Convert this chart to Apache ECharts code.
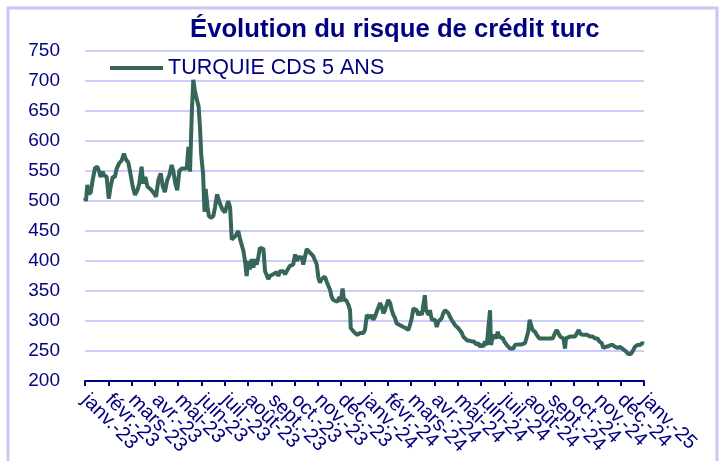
<!DOCTYPE html>
<html>
<head>
<meta charset="utf-8">
<script src="https://cdn.jsdelivr.net/npm/echarts@6.0.0/dist/echarts.min.js"></script>
<style>
  html, body { margin: 0; padding: 0; background: #fff; }
  #chart { width: 724px; height: 461px; }
</style>
</head>
<body>
<div id="chart"></div>
<script>
// mois affichés sous l'axe (un tick par début de mois)
const monthLabels = ['janv.-23', 'févr.-23', 'mars-23', 'avr.-23', 'mai-23', 'juin-23', 'juil.-23', 'août-23',
  'sept.-23', 'oct.-23', 'nov.-23', 'déc.-23', 'janv.-24', 'févr.-24', 'mars-24', 'avr.-24', 'mai-24',
  'juin-24', 'juil.-24', 'août-24', 'sept.-24', 'oct.-24', 'nov.-24', 'déc.-24', 'janv.-25']

const yTicks = [200, 250, 300, 350, 400, 450, 500, 550, 600, 650, 700, 750]

// CDS 5 ans, [position en mois depuis janv.-23, points de base]
const cds2023a = [[0.00,505],[0.04,500],[0.10,527],[0.14,513],[0.24,513],[0.33,535],[0.43,555],[0.53,557],[0.61,549],[0.67,540],[0.76,549],[0.82,543],[0.93,540],[1.02,504],[1.10,524],[1.19,540],[1.28,540],[1.36,554],[1.47,563],[1.58,568],[1.67,579],[1.76,569],[1.86,564],[1.93,550],[2.05,524],[2.15,510],[2.25,518],[2.33,529],[2.43,557],[2.50,529],[2.59,540],[2.68,524],[2.76,527],[2.86,518],[2.96,513],[3.05,507],[3.15,535],[3.25,546],[3.34,524],[3.43,515],[3.53,535],[3.62,543],[3.72,560],[3.79,550],[3.88,529],[3.96,518],[4.05,550],[4.15,554],[4.25,554],[4.37,554],[4.44,590],[4.51,549],[4.55,550],[4.59,652],[4.65,702],[4.71,685],[4.77,674],[4.82,677],[4.88,657],[4.94,621],[4.99,577],[5.07,545],[5.13,482],[5.18,520],[5.26,490],[5.32,475],[5.41,472],[5.51,475],[5.58,489],[5.67,511],[5.75,508],[5.81,494],[5.90,486]]

const cds2023b = [[6.01,481],[6.10,494],[6.15,500],[6.23,489],[6.30,436],[6.37,433],[6.47,442],[6.58,450],[6.66,436],[6.73,433],[6.80,417],[6.87,400],[6.94,375],[7.01,400],[7.08,386],[7.16,403],[7.23,389],[7.30,403],[7.37,394],[7.44,406],[7.51,422],[7.59,425],[7.66,420],[7.73,383],[7.80,381],[7.87,370],[7.94,375],[8.02,372],[8.08,378],[8.16,375],[8.23,381],[8.30,375],[8.37,383],[8.45,386],[8.51,383],[8.59,378],[8.66,383],[8.73,386],[8.80,392],[8.87,389],[8.94,394],[9.02,411],[9.09,400],[9.16,408],[9.23,403],[9.30,408],[9.37,394],[9.45,408],[9.52,420],[9.59,422],[9.66,414],[9.73,411],[9.80,408],[9.88,406],[9.95,394],[10.02,372],[10.09,364],[10.16,370],[10.23,372],[10.30,374],[10.38,365],[10.45,363],[10.52,352],[10.59,340],[10.66,335],[10.73,335],[10.83,332],[10.92,340],[10.98,332],[11.06,354],[11.12,335],[11.21,335],[11.31,327],[11.38,318],[11.41,288],[11.49,288],[11.59,280],[11.69,277],[11.81,280],[11.95,280]]

const cds2024a = [[12.02,285],[12.10,310],[12.16,310],[12.24,305],[12.31,310],[12.38,302],[12.45,307],[12.52,315],[12.59,315],[12.67,330],[12.74,324],[12.81,313],[12.88,318],[12.95,327],[13.02,335],[13.10,330],[13.17,318],[13.24,310],[13.31,305],[13.38,296],[13.53,293],[13.67,290],[13.78,288],[13.88,285],[13.95,293],[14.03,305],[14.10,321],[14.17,321],[14.24,318],[14.31,310],[14.38,315],[14.46,310],[14.53,313],[14.59,343],[14.64,318],[14.70,321],[14.76,310],[14.81,318],[14.89,302],[14.95,305],[15.03,302],[15.10,290],[15.17,299],[15.24,296],[15.32,305],[15.38,313],[15.46,318],[15.53,315],[15.60,313],[15.67,307],[15.74,302],[15.81,299],[15.89,293],[15.96,290],[16.03,288],[16.10,285],[16.18,280],[16.24,274],[16.32,271],[16.39,268],[16.50,267],[16.60,266],[16.70,266],[16.79,261],[16.89,263],[16.96,257],[17.03,261],[17.10,257],[17.17,266],[17.25,260],[17.32,260],[17.39,318],[17.43,260],[17.49,271],[17.56,277],[17.65,271],[17.72,282],[17.79,274],[17.86,277],[17.94,271]]

const cds2024b = [[18.00,266],[18.11,260],[18.18,257],[18.25,254],[18.32,257],[18.39,254],[18.46,260],[18.53,257],[18.60,261],[18.68,260],[18.75,261],[18.82,260],[18.89,263],[18.96,266],[19.03,282],[19.09,302],[19.15,293],[19.22,285],[19.32,282],[19.39,277],[19.51,271],[19.65,271],[19.79,271],[19.97,271],[20.08,271],[20.18,280],[20.25,285],[20.32,280],[20.40,274],[20.47,272],[20.54,271],[20.61,254],[20.65,271],[20.73,274],[20.82,274],[20.94,274],[21.04,274],[21.11,277],[21.20,285],[21.28,278],[21.37,277],[21.47,277],[21.57,277],[21.68,274],[21.80,274],[21.90,271],[22.00,271],[22.08,266],[22.19,263],[22.25,255],[22.37,257],[22.47,258],[22.57,260],[22.66,260],[22.76,257],[22.86,255],[22.97,257],[23.04,254],[23.14,252],[23.23,249],[23.33,245],[23.43,245],[23.52,250],[23.61,257],[23.71,260],[23.82,260],[23.93,263],[24.00,262]]

const navy = '#000080'
const lineColor = '#36655a'

const myChart = echarts.init(document.getElementById('chart'))
myChart.setOption({
    animation: false,
    backgroundColor: '#fff',
    textStyle: { fontFamily: 'Liberation Sans, Arial, sans-serif' },
    graphic: [{
        type: 'rect',
        shape: { x: 8, y: 8, width: 709, height: 470 },
        style: { fill: 'none', stroke: '#c8c8f4', lineWidth: 3 },
        silent: true
    }],
    title: {
        text: 'Évolution du risque de crédit turc',
        left: 190,
        top: 17,
        padding: 0,
        textStyle: { color: navy, fontSize: 25.7, fontWeight: 'bold', fontFamily: 'Liberation Sans' }
    },
    legend: {
        left: 110,
        top: 57,
        padding: 0,
        icon: 'rect',
        itemWidth: 53,
        itemHeight: 4,
        textStyle: { color: navy, fontSize: 21.5, fontFamily: 'Liberation Sans' },
        data: ['TURQUIE CDS 5 ANS']
    },
    grid: { left: 85, right: 80, top: 51, bottom: 80, containLabel: false },
    xAxis: [{
        // axe des données (position en mois), invisible
        type: 'value',
        min: 0,
        max: monthLabels.length - 1,
        interval: 1,
        show: false
    }, {
        // axe des libellés de mois, tous affichés
        type: 'category',
        position: 'bottom',
        boundaryGap: false,
        data: monthLabels,
        splitLine: { show: false },
        axisLine: { show: true, lineStyle: { color: navy, width: 2 } },
        axisTick: { show: true, length: 5, interval: 0, lineStyle: { color: navy, width: 2 } },
        axisLabel: {
            interval: 0,
            rotate: -45,
            margin: 16,
            color: navy,
            fontSize: 20
        }
    }],
    yAxis: {
        type: 'value',
        min: yTicks[0],
        max: yTicks[yTicks.length - 1],
        interval: 50,
        axisLine: { show: false },
        axisTick: { show: false },
        axisLabel: { color: navy, fontSize: 19, margin: 25 },
        splitLine: { lineStyle: { color: '#ccccff', width: 2 } }
    },
    series: [{
        name: 'TURQUIE CDS 5 ANS',
        type: 'line',
        xAxisIndex: 0,
        data: cds2023a.concat(cds2023b, cds2024a, cds2024b),
        showSymbol: false,
        symbol: 'none',
        color: lineColor,
        lineStyle: { color: lineColor, width: 4 }
    }]
})
window.addEventListener('resize', myChart.resize)
</script>
</body>
</html>
